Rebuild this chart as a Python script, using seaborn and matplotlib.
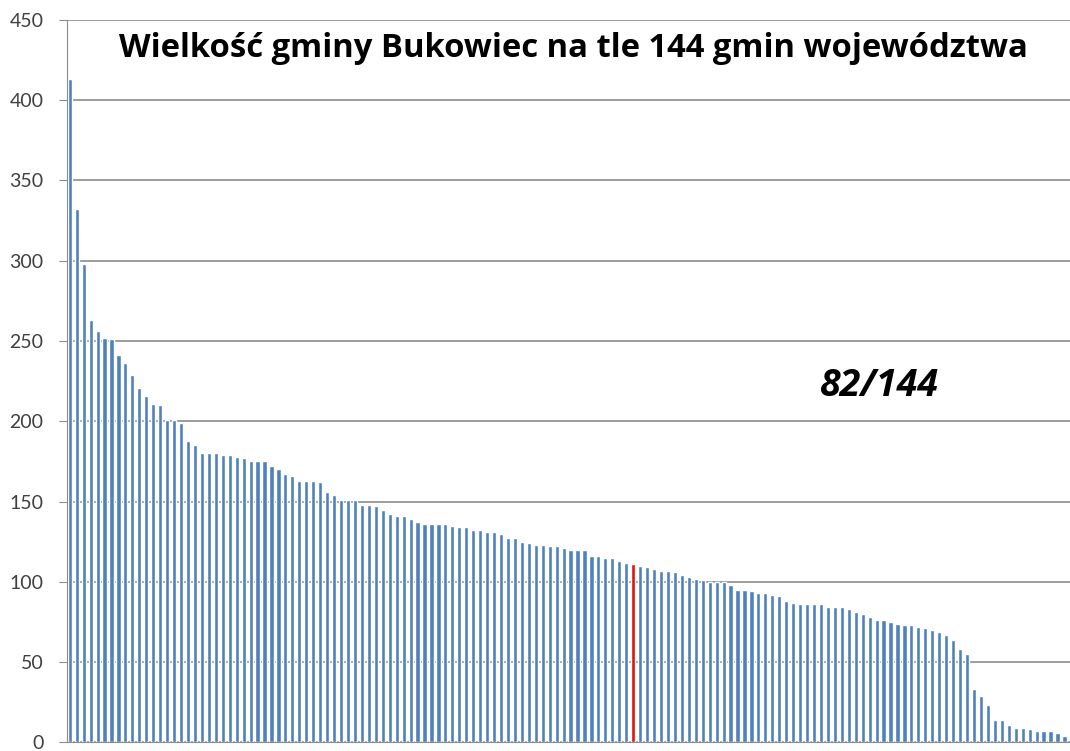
import numpy as np
import pandas as pd
import matplotlib
matplotlib.use('Agg')
import matplotlib.pyplot as plt
import seaborn as sns

# powierzchnia gmin (posortowane malejaco), Bukowiec = 82 miejsce
values = [413, 332, 298, 263, 256, 252, 251, 241, 236, 229,
          221, 216, 211, 210, 201, 201, 199, 188, 185, 180,
          180, 180, 179, 179, 178, 177, 175, 175, 175, 172,
          170, 167, 166, 163, 163, 163, 162, 156, 154, 151,
          151, 151, 148, 148, 147, 145, 142, 141, 141, 139,
          137, 136, 136, 136, 136, 135, 134, 134, 132, 132,
          131, 131, 130, 127, 127, 125, 124, 123, 123, 122,
          122, 121, 120, 120, 120, 116, 116, 115, 115, 113,
          112, 111, 110, 109, 108, 107, 107, 106, 104, 103,
          102, 101, 100, 100, 100, 98, 95, 95, 94, 93,
          93, 92, 91, 88, 87, 86, 86, 86, 86, 84,
          84, 84, 83, 81, 80, 78, 76, 76, 75, 74,
          73, 73, 72, 71, 70, 69, 67, 64, 58, 55,
          33, 29, 23, 14, 14, 11, 9, 9, 8.5, 7,
          7, 7, 6, 4]
highlight = 82
title = 'Wielkość gminy Bukowiec na tle 144 gmin województwa'
rank_label = '82/144'
yticks = [0, 50, 100, 150, 200, 250, 300, 350, 400, 450]

df = pd.DataFrame({'rank': np.arange(1, len(values) + 1), 'area': values})
colors = ['#E3120B' if r == highlight else '#4F81BD' for r in df['rank']]

sns.set_style('white')
plt.rcParams['font.family'] = ['Lato', 'DejaVu Sans']

fig = plt.figure(figsize=(10.7, 7.51), dpi=100)
ax = fig.add_axes([0.0626, 0.0115, 0.9374, 0.9621])
sns.barplot(x='rank', y='area', data=df, hue='rank', palette=colors,
            legend=False, width=0.6, saturation=1, ax=ax)

ax.set_ylim(0, 450)
ax.set_xlim(-0.4, 143.8)
ax.set_yticks(yticks)
ax.set_yticklabels([str(t) for t in yticks], fontsize=14, color='#404040')
ax.set_xticks([])
ax.set_xlabel('')
ax.set_ylabel('')
ax.yaxis.grid(True, color='#8c8c8c', linewidth=1.2)
ax.set_axisbelow(True)
for s in ['top', 'right']:
    ax.spines[s].set_visible(False)
ax.spines['left'].set_color('#8c8c8c')
ax.spines['bottom'].set_color('#8c8c8c')
ax.tick_params(axis='y', which='major', direction='out', length=6,
               color='#8c8c8c', pad=11, left=True)

fig.text(0.536, 0.935, title, fontsize=23.6, fontweight='bold',
         family=['Open Sans', 'DejaVu Sans'],
         ha='center', va='center', color='black')
fig.text(0.8215, 0.486, rank_label, fontsize=27, fontweight='bold',
         style='italic', family=['Open Sans', 'DejaVu Sans'],
         ha='center', va='center', color='black')

fig.savefig('out.png', dpi=100)
